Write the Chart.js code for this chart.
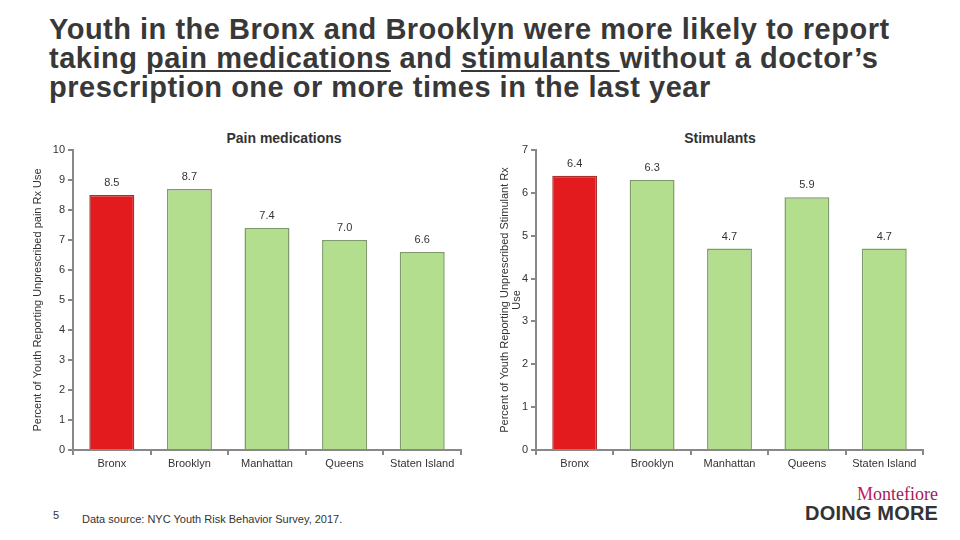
<!DOCTYPE html>
<html lang="en">
<head>
    <meta charset="UTF-8">
    <title>Unprescribed Rx use by borough</title>
    <script src="https://cdn.jsdelivr.net/npm/chart.js"></script>
    <style>
        body {
            margin: 0;
            width: 960px;
            height: 540px;
            position: relative;
            overflow: hidden;
            background: white;
            font-family: "Liberation Sans", Arial, sans-serif;
            color: #262626;
        }
        .title {
            position: absolute;
            left: 49px;
            top: 15px;
            font-size: 29px;
            line-height: 29px;
            letter-spacing: 0.5px;
            font-weight: bold;
            color: #383838;
            white-space: nowrap;
        }
        .chart-title {
            position: absolute;
            top: 130px;
            font-size: 14px;
            font-weight: bold;
            color: #333;
            transform: translateX(-50%);
            white-space: nowrap;
        }
        .chart-box {
            position: absolute;
            top: 130px;
            width: 440px;
            height: 345px;
        }
        .page-num {
            position: absolute;
            left: 53px;
            top: 509px;
            font-size: 11px;
            color: #333;
        }
        .source {
            position: absolute;
            left: 82px;
            top: 513px;
            font-size: 11px;
            color: #333;
        }
        .logo-top {
            position: absolute;
            right: 22px;
            top: 484px;
            font-family: "Liberation Serif", "DejaVu Serif", serif;
            font-size: 18px;
            color: #a3195b;
        }
        .logo-top span { color: #c2185b; }
        .logo-bottom {
            position: absolute;
            left: 805px;
            top: 502px;
            font-size: 20px;
            font-weight: bold;
            color: #333;
            letter-spacing: 0.2px;
        }
    </style>
</head>
<body>
    <div class="title">
        Youth in the Bronx and Brooklyn were more likely to report<br>
        taking <u>pain medications</u> and <u>stimulants </u>without a doctor’s<br>
        prescription one or more times in the last year
    </div>

    <div class="chart-title" style="left: 284px;">Pain medications</div>
    <div class="chart-title" style="left: 720px;">Stimulants</div>

    <div class="chart-box" style="left: 30px;"><canvas id="painChart"></canvas></div>
    <div class="chart-box" style="left: 490px;"><canvas id="stimChart"></canvas></div>

    <div class="page-num">5</div>
    <div class="source">Data source: NYC Youth Risk Behavior Survey, 2017.</div>
    <div class="logo-top"><span>M</span>ontefiore</div>
    <div class="logo-bottom">DOING MORE</div>

    <script>
        // Data
        const boroughs = ['Bronx', 'Brooklyn', 'Manhattan', 'Queens', 'Staten Island'];
        const painValues = [8.5, 8.7, 7.4, 7.0, 6.6];
        const stimValues = [6.4, 6.3, 4.7, 5.9, 4.7];
        const painAxisMax = 10;
        const stimAxisMax = 7;
        const painAxisTitle = 'Percent of Youth Reporting Unprescribed pain Rx Use';
        const stimAxisTitle = ['Percent of Youth Reporting Unprescribed Stimulant Rx', 'Use'];

        // Bronx is highlighted in red, the rest green
        const fillColors = ['#e31b1f', '#b3de8e', '#b3de8e', '#b3de8e', '#b3de8e'];
        const edgeColors = ['#a8302f', '#7f9a6c', '#7f9a6c', '#7f9a6c', '#7f9a6c'];

        const tickFont = { family: 'Liberation Sans', size: 11 };

        // draws the value above each bar
        const valueLabels = {
            id: 'valueLabels',
            afterDatasetsDraw(chart) {
                const ctx = chart.ctx;
                const meta = chart.getDatasetMeta(0);
                const data = chart.data.datasets[0].data;
                ctx.save();
                ctx.font = '11px "Liberation Sans"';
                ctx.fillStyle = '#333';
                ctx.textAlign = 'center';
                ctx.textBaseline = 'middle';
                meta.data.forEach((bar, i) => {
                    ctx.fillText(data[i].toFixed(1), bar.x, bar.y - 12);
                });
                ctx.restore();
            }
        };

        function makeChart(id, values, axisMax, axisTitle, axisWidth, titlePad, padRight) {
            return new Chart(document.getElementById(id), {
                type: 'bar',
                data: {
                    labels: boroughs,
                    datasets: [{
                        data: values,
                        backgroundColor: fillColors,
                        borderColor: edgeColors,
                        borderWidth: 1.5,
                        barPercentage: 0.58,
                        categoryPercentage: 1
                    }]
                },
                options: {
                    responsive: true,
                    maintainAspectRatio: false,
                    animation: false,
                    layout: { padding: { top: 20, right: padRight, bottom: 0, left: 0 } },
                    plugins: {
                        legend: { display: false },
                        tooltip: { enabled: false }
                    },
                    scales: {
                        x: {
                            grid: {
                                drawOnChartArea: false,
                                drawTicks: true,
                                tickLength: 5,
                                color: '#888',
                                lineWidth: 2
                            },
                            border: { color: '#888', width: 2 },
                            ticks: { color: '#333', font: tickFont, padding: 2, maxRotation: 0 },
                            afterFit(scale) { scale.height = 25; }
                        },
                        y: {
                            min: 0,
                            max: axisMax,
                            grid: {
                                drawOnChartArea: false,
                                drawTicks: true,
                                tickLength: 5,
                                color: '#888',
                                lineWidth: 2
                            },
                            border: { color: '#888', width: 2 },
                            ticks: { stepSize: 1, color: '#333', font: tickFont, padding: 3 },
                            title: {
                                display: true,
                                text: axisTitle,
                                color: '#333',
                                font: { family: 'Liberation Sans', size: 11, lineHeight: 1.1 },
                                padding: { top: titlePad, bottom: 0 }
                            },
                            afterFit(scale) { scale.width = axisWidth; }
                        }
                    }
                },
                plugins: [valueLabels]
            });
        }

        makeChart('painChart', painValues, painAxisMax, painAxisTitle, 43, 2, 9);
        makeChart('stimChart', stimValues, stimAxisMax, stimAxisTitle, 46, 9, 7);
    </script>
</body>
</html>
